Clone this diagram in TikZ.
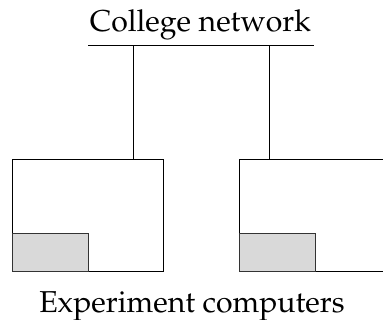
\documentclass[tikz,border=0pt]{standalone}
\usepackage[T1]{fontenc}
\usepackage{mathpazo}
\begin{document}
\begin{tikzpicture}[x=1pt,y=-1pt,
  box/.style={draw=black,line width=1pt,fill=white,rectangle,inner sep=0pt,minimum width=151pt,minimum height=112.5pt},
  disk/.style={draw=black!80,line width=1pt,fill=black!15,rectangle,inner sep=0pt,minimum width=76pt,minimum height=38pt},
  wire/.style={line width=1pt},
  lbl/.style={inner sep=0pt,font=\fontsize{30.2}{36}\selectfont}]
\useasboundingbox (0,0) rectangle (383,320);
\clip (0,0) rectangle (383,320);
\node[box] (pc1) at (87.5,215.75) {};
\node[box] (pc2) at (314.5,215.75) {};
\node[disk,anchor=south west] (d1) at (pc1.south west) {};
\node[disk,anchor=south west] (d2) at (pc2.south west) {};
\coordinate (netL) at (88,45.7);
\coordinate (netR) at (314,45.7);
\coordinate (tap1) at (133.3,45.7);
\coordinate (tap2) at (269.3,45.7);
\draw[wire] (netL) -- (netR);
\draw[wire] (tap1) -- (tap1 |- pc1.north);
\draw[wire] (tap2) -- (tap2 |- pc2.north);
\node[lbl,anchor=base] (net) at (200.5,32) {College network};
\node[lbl,anchor=base] (exp) at (192,313) {Experiment computers};
\end{tikzpicture}
\end{document}
